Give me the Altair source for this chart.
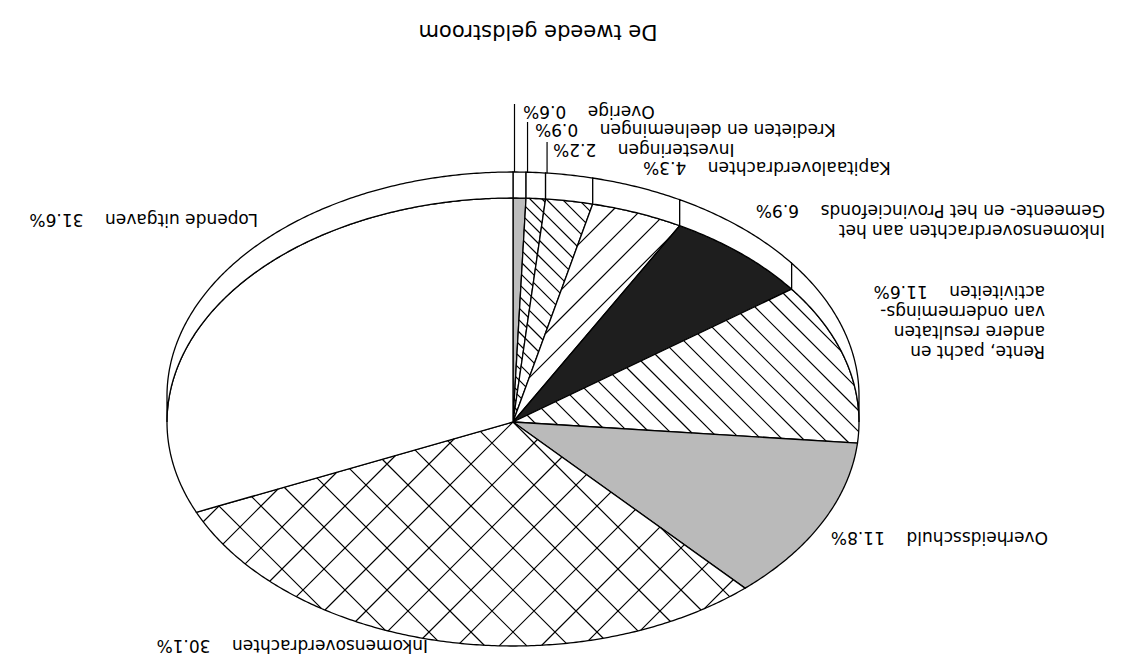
import math
import numpy as np
import pandas as pd
import altair as alt

# ---------------- data ----------------
categories = [
    "Overige",
    "Kredieten en deelnemingen",
    "Investeringen",
    "Kapitaaloverdrachten",
    "Inkomensoverdrachten aan het Gemeente- en het Provinciefonds",
    "Rente, pacht en andere resultaten van ondernemingsactiviteiten",
    "Overheidsschuld",
    "Inkomensoverdrachten",
    "Lopende uitgaven",
]
shares = [0.6, 0.9, 2.2, 4.3, 6.9, 11.6, 11.8, 30.1, 31.6]
label_lines = [
    ["Overige"],
    ["Kredieten en deelnemingen"],
    ["Investeringen"],
    ["Kapitaaloverdrachten"],
    ["Inkomensoverdrachten aan het", "Gemeente- en het Provinciefonds"],
    ["Rente, pacht en", "andere resultaten", "van ondernemings-", "activiteiten"],
    ["Overheidsschuld"],
    ["Inkomensoverdrachten"],
    ["Lopende uitgaven"],
]
title_text = "De tweede geldstroom"

# ---------------- styles / layout ----------------
FILLS = ["#bdbdbd", "#ffffff", "#ffffff", "#ffffff", "#1e1e1e",
         "#ffffff", "#bababa", "#ffffff", "#ffffff"]
HATCH = [None, ("back", 12), ("back", 16), ("fwd", 28), None,
         ("back", 21), None, ("cross", 42), None]
# label anchors relative to the pie centre (pixels), alignment in the text frame
LABEL_POS = [(10, -316, "right"), (22, -298, "right"), (40, -278, "right"),
             (130, -260, "right"), (592, -197, "left"), (532, -76, "left"),
             (535, 110, "left"), (-85, 218, "left"), (-255, -208, "left")]
LEADERS = [0, 1, 2]
TITLE_POS = (25, -397)
CX, CY = 505, 414          # pie centre inside the plot area
RX, RY, DEPTH = 346, 224, 26
W, H = 1125, 650
FONT = "DejaVu Sans"
GAP = "\u00a0" * 4


def pt(theta):
    t = math.radians(theta)
    return [RX * math.sin(t), -RY * math.cos(t)]


def arc(a, b, step=0.5):
    n = max(2, int(abs(b - a) / step) + 1)
    return [pt(a + (b - a) * i / (n - 1)) for i in range(n)]


def clip_family(poly, direction, spacing):
    d = np.array(direction, dtype=float)
    d /= np.linalg.norm(d)
    nrm = np.array([-d[1], d[0]])
    perp = spacing / math.sqrt(2)
    P = np.array(poly, dtype=float)
    pr = P @ nrm
    segs = []
    for k in range(math.ceil(pr.min() / perp), math.floor(pr.max() / perp) + 1):
        c = k * perp
        hits = []
        for i in range(len(P) - 1):
            a, b = P[i], P[i + 1]
            sa, sb = a @ nrm - c, b @ nrm - c
            if sa == sb:
                continue
            if (sa <= 0 <= sb) or (sb <= 0 <= sa):
                t = sa / (sa - sb)
                hits.append(a + t * (b - a))
        if len(hits) >= 2:
            hits.sort(key=lambda p: p @ d)
            if np.linalg.norm(hits[-1] - hits[0]) > 0.5:
                segs.append([hits[0].tolist(), hits[-1].tolist()])
    return segs


total = sum(shares)
ends = np.cumsum(shares) / total * 360.0
starts = np.concatenate([[0.0], ends[:-1]])

faces, walls, hatches, leaders = [], [], [], []
for i, cat in enumerate(categories):
    a, b = float(starts[i]), float(ends[i])
    ring = [[0.0, 0.0]] + arc(a, b) + [[0.0, 0.0]]
    faces.append({"type": "Feature",
                  "geometry": {"type": "Polygon", "coordinates": [ring]},
                  "properties": {"name": cat, "fill": FILLS[i]}})
    for lo, hi in [(0.0, 90.0), (270.0, 360.0)]:
        t0, t1 = max(a, lo), min(b, hi)
        if t1 - t0 > 0.01:
            top = arc(t0, t1)
            low = [[p[0], p[1] - DEPTH] for p in reversed(top)]
            wring = top + low + [top[0]]
            walls.append({"type": "Feature",
                          "geometry": {"type": "Polygon", "coordinates": [wring]},
                          "properties": {"name": cat}})
    if HATCH[i] is not None:
        kind, sp = HATCH[i]
        dirs = {"back": [(1, 1)], "fwd": [(1, -1)], "cross": [(1, 1), (1, -1)]}[kind]
        segs = []
        for dv in dirs:
            segs += clip_family(ring, dv, sp)
        if segs:
            hatches.append({"type": "Feature",
                            "geometry": {"type": "MultiLineString", "coordinates": segs},
                            "properties": {"name": cat}})

for i in LEADERS:
    x0, y0 = pt(float(starts[i]))
    lx = x0 + 1.5
    leaders.append({"type": "Feature",
                    "geometry": {"type": "LineString",
                                 "coordinates": [[lx, y0 - DEPTH], [lx, LABEL_POS[i][1] - 2]]},
                    "properties": {"name": categories[i]}})

rows = []
for i, lines in enumerate(label_lines):
    txt = list(lines)
    txt[-1] = txt[-1] + GAP + f"{shares[i]:.1f}%"
    rows.append({"lon": LABEL_POS[i][0], "lat": LABEL_POS[i][1],
                 "align": LABEL_POS[i][2], "text": "\n".join(txt)})
labels = pd.DataFrame(rows)

proj = alt.Projection(type="identity", scale=1, translate=[CX, CY]).to_dict()

wall_layer = alt.Chart(alt.Data(values=walls)).mark_geoshape(
    fill="white", stroke="black", strokeWidth=1.3
).project(**proj)

face_layer = alt.Chart(alt.Data(values=faces)).mark_geoshape(
    stroke="black", strokeWidth=1.3
).encode(
    fill=alt.Fill("properties.fill:N", scale=None),
    tooltip=alt.Tooltip("properties.name:N", title="Categorie"),
).project(**proj)

hatch_layer = alt.Chart(alt.Data(values=hatches)).mark_geoshape(
    filled=False, stroke="black", strokeWidth=1.2
).project(**proj)

leader_layer = alt.Chart(alt.Data(values=leaders)).mark_geoshape(
    filled=False, stroke="black", strokeWidth=1.2
).project(**proj)


def text_layer(df, align, size):
    return alt.Chart(df).mark_text(
        angle=180, align=align, baseline="alphabetic", font=FONT,
        fontSize=size, lineBreak="\n", lineHeight=20, color="black"
    ).encode(
        longitude="lon:Q", latitude="lat:Q", text="text:N"
    ).project(**proj)


left_labels = text_layer(labels[labels["align"] == "left"], "left", 17)
right_labels = text_layer(labels[labels["align"] == "right"], "right", 17)
title_df = pd.DataFrame([{"lon": TITLE_POS[0], "lat": TITLE_POS[1], "text": title_text}])
title_layer = text_layer(title_df, "center", 21)

chart = alt.layer(
    face_layer, wall_layer, hatch_layer, leader_layer,
    left_labels, right_labels, title_layer
).properties(
    width=W, height=H, padding=0,
    autosize=alt.AutoSizeParams(type="none"),
    background="white",
).configure_view(stroke=None)

chart.save("out.html", embed_options={"renderer": "svg", "actions": False})
